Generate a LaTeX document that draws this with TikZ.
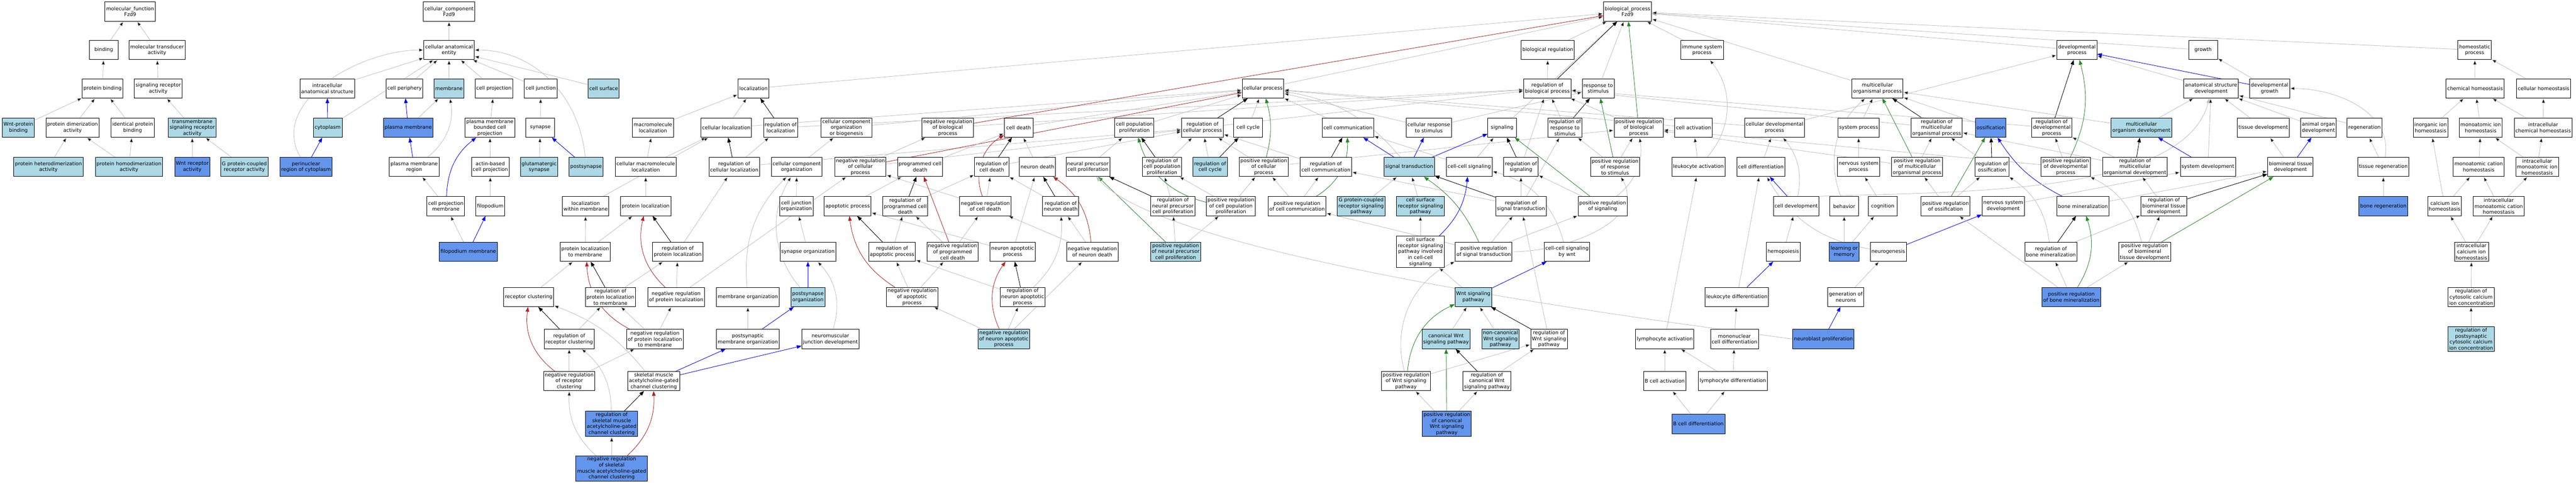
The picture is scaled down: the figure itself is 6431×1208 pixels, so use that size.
\documentclass[tikz,border=0pt]{standalone}
\usepackage{fontspec}
\setmainfont{DejaVu Sans}
\usetikzlibrary{arrows.meta,backgrounds}
\definecolor{lb}{HTML}{ADD8E6}
\definecolor{cb}{HTML}{6495ED}
\definecolor{edgegray}{HTML}{C0C0C0}
\definecolor{negred}{HTML}{B22222}
\definecolor{posgreen}{HTML}{228B22}

\begin{document}
\begin{tikzpicture}[x=1pt,y=1pt,
	term/.style={rectangle,draw=black,line width=1.2pt,fill=white,align=center,inner xsep=3pt,inner ysep=3pt,minimum width=72pt,minimum height=48pt,font=\fontsize{12.5}{15}\selectfont},
	lightterm/.style={term,fill=lb},
	darkterm/.style={term,fill=cb},
	isa/.style={draw=edgegray,line width=1.1pt,-{Triangle[length=12pt,width=9pt]}},
	partof/.style={draw=blue},
	regulates/.style={draw=black},
	negreg/.style={draw=negred},
	posreg/.style={draw=posgreen}]
		\useasboundingbox (0,0) rectangle (6431,1208);
		\draw
			(325,1179) node [term] (mf) {molecular\_function\\Fzd9}
			(259,1083) node [term] (bind) {binding}
			(392,1083) node [term] (mtrans) {molecular transducer\\activity}
			(256,987) node [term] (pbind) {protein binding}
			(395,987) node [term] (sra) {signaling receptor\\activity}
			(46,889) node [lightterm] (wntpb) {Wnt-protein\\binding}
			(181,889) node [term] (pdim) {protein dimerization\\activity}
			(331,889) node [term] (ipb) {identical protein\\binding}
			(480,889) node [lightterm] (tmsra) {transmembrane\\signaling receptor\\activity}
			(121,791) node [lightterm] (phet) {protein heterodimerization\\activity}
			(322,791) node [lightterm] (phom) {protein homodimerization\\activity}
			(480,791) node [darkterm] (wntra) {Wnt receptor\\activity}
			(610,791) node [lightterm] (gpcra) {G protein-coupled\\receptor activity}
			;
		\draw
			(1121,1179) node [term] (cc) {cellular\_component\\Fzd9}
			(1121,1083) node [term] (cae) {cellular anatomical\\entity}
			(817,987) node [term] (ias) {intracellular\\anatomical structure}
			(1010,987) node [term] (cper) {cell periphery}
			(1121,987) node [lightterm] (memb) {membrane}
			(1233,987) node [term] (cproj) {cell projection}
			(1350,987) node [term] (cjunc) {cell junction}
			(1507,987) node [lightterm] (csurf) {cell surface}
			(818,889) node [lightterm] (cyto) {cytoplasm}
			(1019,889) node [darkterm] (pm) {plasma membrane}
			(1223,889) node [term] (pmbcp) {plasma membrane\\bounded cell\\projection}
			(1349,889) node [term] (syn) {synapse}
			(764,791) node [darkterm] (perinuc) {perinuclear\\region of cytoplasm}
			(1034,791) node [term] (pmr) {plasma membrane\\region}
			(1224,791) node [term] (abcp) {actin-based\\cell projection}
			(1346,791) node [lightterm] (glusyn) {glutamatergic\\synapse}
			(1463,791) node [lightterm] (postsyn) {postsynapse}
			(1113,693) node [term] (cpm) {cell projection\\membrane}
			(1224,693) node [term] (filo) {filopodium}
			(1169,579) node [darkterm] (filom) {filopodium membrane}
			;
		\draw
			(1881,987) node [term] (loc) {localization}
			(1630,889) node [term] (mloc) {macromolecule\\localization}
			(1813,889) node [term] (cloc) {cellular localization}
			(1949,889) node [term] (rloc) {regulation of\\localization}
			(2113,889) node [term] (ccob) {cellular component\\organization\\or biogenesis}
			(2366,889) node [term] (nrbp) {negative regulation\\of biological\\process}
			(2543,889) node [term] (cdeath) {cell death}
			(1612,791) node [term] (cmloc) {cellular macromolecule\\localization}
			(1833,791) node [term] (rcloc) {regulation of\\cellular localization}
			(1989,791) node [term] (cco) {cellular component\\organization}
			(2148,791) node [term] (nrcp) {negative regulation\\of cellular\\process}
			(2297,791) node [term] (pcd) {programmed cell\\death}
			(2476,791) node [term] (rcd) {regulation of\\cell death}
			(2590,791) node [term] (ndeath) {neuron death}
			(2716,791) node [term] (npcp) {neural precursor\\cell proliferation}
			(1462,693) node [term] (locm) {localization\\within membrane}
			(1612,693) node [term] (ploc) {protein localization}
			(1988,693) node [term] (cjo) {cell junction\\organization}
			(2116,693) node [term] (apop) {apoptotic process}
			(2260,693) node [term] (rpcd) {regulation of\\programmed cell\\death}
			(2460,693) node [term] (nrcd) {negative regulation\\of cell death}
			(2648,693) node [term] (rnd) {regulation of\\neuron death}
			(1461,579) node [term] (plocm) {protein localization\\to membrane}
			(1692,579) node [term] (rploc) {regulation of\\protein localization}
			(2017,579) node [term] (synorg) {synapse organization}
			(2227,579) node [term] (rap) {regulation of\\apoptotic process}
			(2378,579) node [term] (nrpcd) {negative regulation\\of programmed\\cell death}
			(2528,579) node [term] (nap) {neuron apoptotic\\process}
			(2727,579) node [term] (nrnd) {negative regulation\\of neuron death}
			(1320,466) node [term] (recl) {receptor clustering}
			(1524,466) node [term] (rplocm) {regulation of\\protein localization\\to membrane}
			(1688,466) node [term] (nrploc) {negative regulation\\of protein localization}
			(1867,466) node [term] (morg) {membrane organization}
			(2017,466) node [lightterm] (psorg) {postsynapse\\organization}
			(2277,466) node [term] (nrap) {negative regulation\\of apoptotic\\process}
			(2553,466) node [term] (rnap) {regulation of\\neuron apoptotic\\process}
			(1421,361) node [term] (rrecl) {regulation of\\receptor clustering}
			(1635,361) node [term] (nrplocm) {negative regulation\\of protein localization\\to membrane}
			(1867,361) node [term] (psmorg) {postsynaptic\\membrane organization}
			(2073,361) node [term] (nmjd) {neuromuscular\\junction development}
			(2506,361) node [lightterm] (nrnap) {negative regulation\\of neuron apoptotic\\process}
			(1421,256) node [term] (nrrecl) {negative regulation\\of receptor\\clustering}
			(1632,256) node [term] (smacc) {skeletal muscle\\acetylcholine-gated\\channel clustering}
			(1527,149) node [darkterm] (rsmacc) {regulation of\\skeletal muscle\\acetylcholine-gated\\channel clustering}
			(1527,38) node [darkterm] (nrsmacc) {negative regulation\\of skeletal\\muscle acetylcholine-gated\\channel clustering}
			;
		\draw
			(3153,987) node [term] (cproc) {cellular process}
			(2832,889) node [term] (cpp) {cell population\\proliferation}
			(3002,889) node [term] (rcp) {regulation of\\cellular process}
			(3116,889) node [term] (ccyc) {cell cycle}
			(3365,889) node [term] (ccomm) {cell communication}
			(3567,889) node [term] (crs) {cellular response\\to stimulus}
			(3750,889) node [term] (sig) {signaling}
			(2901,791) node [term] (rcpp) {regulation of\\cell population\\proliferation}
			(3021,791) node [lightterm] (rccyc) {regulation of\\cell cycle}
			(3155,791) node [term] (prcp) {positive regulation\\of cellular\\process}
			(3310,791) node [term] (rcc) {regulation of\\cell communication}
			(3518,791) node [lightterm] (st) {signal transduction}
			(3668,791) node [term] (ccs) {cell-cell signaling}
			(2928,693) node [term] (rnpcp) {regulation of\\neural precursor\\cell proliferation}
			(3073,693) node [term] (prcpp) {positive regulation\\of cell population\\proliferation}
			(3238,693) node [term] (prcc) {positive regulation\\of cell communication}
			(3398,693) node [lightterm] (gpcrsp) {G protein-coupled\\receptor signaling\\pathway}
			(3546,693) node [lightterm] (csrsp) {cell surface\\receptor signaling\\pathway}
			(3797,693) node [term] (rst) {regulation of\\signal transduction}
			(2935,579) node [lightterm] (prnpcp) {positive regulation\\of neural precursor\\cell proliferation}
			(3546,579) node [term] (csrspccs) {cell surface\\receptor signaling\\pathway involved\\in cell-cell\\signaling}
			(3704,579) node [term] (prst) {positive regulation\\of signal transduction}
			(3912,579) node [term] (ccsw) {cell-cell signaling\\by wnt}
			(3678,466) node [lightterm] (wnt) {Wnt signaling\\pathway}
			(3610,361) node [lightterm] (cwnt) {canonical Wnt\\signaling pathway}
			(3746,361) node [lightterm] (ncwnt) {non-canonical\\Wnt signaling\\pathway}
			(3867,361) node [term] (rwnt) {regulation of\\Wnt signaling\\pathway}
			(3510,256) node [term] (prwnt) {positive regulation\\of Wnt signaling\\pathway}
			(3712,256) node [term] (rcwnt) {regulation of\\canonical Wnt\\signaling pathway}
			(3612,149) node [darkterm] (prcwnt) {positive regulation\\of canonical\\Wnt signaling\\pathway}
			;
		\draw
			(4063,1179) node [term] (bp) {biological\_process\\Fzd9}
			(3864,1083) node [term] (breg) {biological regulation}
			(4249,1083) node [term] (isp) {immune system\\process}
			(3863,987) node [term] (rbp) {regulation of\\biological process}
			(3990,987) node [term] (rts) {response to\\stimulus}
			(3907,889) node [term] (rrts) {regulation of\\response to\\stimulus}
			(4091,889) node [term] (prbp) {positive regulation\\of biological\\process}
			(4228,889) node [term] (cact) {cell activation}
			(3797,791) node [term] (rsig) {regulation of\\signaling}
			(4032,791) node [term] (prrts) {positive regulation\\of response\\to stimulus}
			(4240,791) node [term] (lact) {leukocyte activation}
			(4001,693) node [term] (prsig) {positive regulation\\of signaling}
			(4336,466) node [term] (ldiff) {leukocyte differentiation}
			(4156,361) node [term] (lyact) {lymphocyte activation}
			(4330,361) node [term] (mcd) {mononuclear\\cell differentiation}
			(4156,256) node [term] (bcact) {B cell activation}
			(4326,256) node [term] (lydiff) {lymphocyte differentiation}
			(4240,149) node [darkterm] (bcdiff) {B cell differentiation}
			;
		\draw
			(4687,987) node [term] (mop) {multicellular\\organismal process}
			(4430,889) node [term] (cdp) {cellular developmental\\process}
			(4640,889) node [term] (sysp) {system process}
			(4835,889) node [term] (rmop) {regulation of\\multicellular\\organismal process}
			(4396,791) node [term] (cdiff) {cell differentiation}
			(4640,791) node [term] (nsp) {nervous system\\process}
			(4786,791) node [term] (prmop) {positive regulation\\of multicellular\\organismal process}
			(4484,693) node [term] (cdev) {cell development}
			(4604,693) node [term] (behav) {behavior}
			(4700,693) node [term] (cogn) {cognition}
			(4857,693) node [term] (pross) {positive regulation\\of ossification}
			(4452,579) node [term] (hemo) {hemopoiesis}
			(4604,579) node [darkterm] (lom) {learning or\\memory}
			(4714,579) node [term] (neurog) {neurogenesis}
			(4608,466) node [term] (genn) {generation of\\neurons}
			(4552,361) node [darkterm] (nbp) {neuroblast proliferation}
			(5185,1083) node [term] (devp) {developmental\\process}
			(4970,889) node [darkterm] (oss) {ossification}
			(5122,889) node [term] (rdevp) {regulation of\\developmental\\process}
			(5346,889) node [lightterm] (mod) {multicellular\\organism development}
			(4973,791) node [term] (ross) {regulation of\\ossification}
			(5157,791) node [term] (prdevp) {positive regulation\\of developmental\\process}
			(5330,791) node [term] (rmod) {regulation of\\multicellular\\organismal development}
			(5001,693) node [term] (nsd) {nervous system\\development}
			(5200,693) node [term] (bmin) {bone mineralization}
			(5402,693) node [term] (rbtd) {regulation of\\biomineral tissue\\development}
			(5120,579) node [term] (rbmin) {regulation of\\bone mineralization}
			(5354,579) node [term] (prbtd) {positive regulation\\of biomineral\\tissue development}
			(5171,466) node [darkterm] (prbmin) {positive regulation\\of bone mineralization}
			(5500,1083) node [term] (growth) {growth}
			(5520,987) node [term] (asd) {anatomical structure\\development}
			(5666,987) node [term] (devg) {developmental\\growth}
			(5650,889) node [term] (tdev) {tissue development}
			(5788,889) node [term] (aod) {animal organ\\development}
			(5903,889) node [term] (regen) {regeneration}
			(5512,791) node [term] (sysd) {system development}
			(5718,791) node [term] (btd) {biomineral tissue\\development}
			(5950,791) node [term] (treg) {tissue regeneration}
			(5950,693) node [darkterm] (boneregen) {bone regeneration}
			;
		\draw
			(6178,1083) node [term] (homeo) {homeostatic\\process}
			(6179,987) node [term] (chom) {chemical homeostasis}
			(6350,987) node [term] (cellhom) {cellular homeostasis}
			(6068,889) node [term] (iih) {inorganic ion\\homeostasis}
			(6193,889) node [term] (mih) {monoatomic ion\\homeostasis}
			(6349,889) node [term] (ichom) {intracellular\\chemical homeostasis}
			(6188,791) node [term] (mch) {monoatomic cation\\homeostasis}
			(6334,791) node [term] (imih) {intracellular\\monoatomic ion\\homeostasis}
			(6103,693) node [term] (cah) {calcium ion\\homeostasis}
			(6238,693) node [term] (imch) {intracellular\\monoatomic cation\\homeostasis}
			(6170,579) node [term] (icah) {intracellular\\calcium ion\\homeostasis}
			(6169,466) node [term] (rcca) {regulation of\\cytosolic calcium\\ion concentration}
			(6169,361) node [lightterm] (rpcca) {regulation of\\postsynaptic\\cytosolic calcium\\ion concentration}
			;
		\begin{scope}[on background layer]
		\draw[isa]
			(bind) edge (mf)
			(mtrans) edge (mf)
			(pbind) edge (bind)
			(sra) edge (mtrans)
			(wntpb) edge (pbind)
			(pdim) edge (pbind)
			(ipb) edge (pbind)
			(tmsra) edge (sra)
			(phet) edge (pdim)
			(phom) edge (pdim) edge (ipb)
			(wntra) edge (tmsra)
			(gpcra) edge (tmsra)
			;
		\draw[isa]
			(cae) edge (cc)
			(ias) edge (cae)
			(cper) edge (cae)
			(memb) edge (cae)
			(cproj) edge (cae)
			(cjunc) edge (cae)
			(csurf) edge (cae)
			(cyto) edge [partof] (ias) edge (cae)
			(pm) edge [partof] (cper) edge (memb)
			(pmbcp) edge (cproj)
			(syn) edge (cjunc)
			(perinuc) edge [partof] (cyto) edge [out=120,in=180] (cae)
			(pmr) edge [partof] (pm) edge [bend right=30] (memb)
			(abcp) edge (pmbcp)
			(glusyn) edge (syn)
			(postsyn) edge [partof] (syn) edge [out=95,in=0] (cae)
			(cpm) edge [partof,bend left=25] (pmbcp) edge (pmr)
			(filo) edge (abcp)
			(filom) edge (cpm) edge [partof] (filo)
			;
		\draw[isa]
			(loc) edge (bp)
			(mloc) edge (loc)
			(cloc) edge (loc) edge (cproc)
			(rloc) edge [regulates] (loc) edge (rbp)
			(ccob) edge (cproc)
			(cmloc) edge (mloc) edge (cloc)
			(rcloc) edge [regulates] (cloc) edge (rloc) edge (rcp)
			(cco) edge (ccob)
			(ploc) edge (cmloc)
			(locm) edge (cloc)
			(cjo) edge (cco)
			(rploc) edge [regulates] (ploc) edge (rcloc)
			(plocm) edge (locm) edge (ploc)
			(synorg) edge (cjo)
			(recl) edge (plocm)
			(rplocm) edge [regulates] (plocm) edge (rploc)
			(nrploc) edge [negreg,bend left=30] (ploc) edge (rploc) edge (nrcp)
			(morg) edge [bend left=25] (cco)
			(psorg) edge [partof] (synorg) edge [bend left=35] (cco)
			(rrecl) edge [regulates] (recl) edge (rplocm)
			(nrplocm) edge [negreg,bend left=30] (plocm) edge (rplocm) edge (nrploc)
			(psmorg) edge (morg) edge [partof] (psorg)
			(nmjd) edge [bend right=30] (synorg)
			(nrrecl) edge [negreg,bend left=30] (recl) edge (rrecl) edge (nrplocm)
			(smacc) edge [bend right=15] (recl) edge [partof] (psmorg) edge [partof] (nmjd)
			(rsmacc) edge [regulates] (smacc) edge [bend right=25] (rrecl)
			(nrsmacc) edge (rsmacc) edge [bend left=25] (nrrecl) edge [negreg,bend right=25] (smacc)
			;
		\draw[isa]
			(nrbp) edge [negreg] (bp) edge (rbp)
			(nrcp) edge [negreg] (cproc) edge (nrbp) edge (rcp)
			(cdeath) edge (cproc)
			(pcd) edge (cdeath)
			(rcd) edge [regulates] (cdeath) edge (rcp)
			(ndeath) edge (cdeath)
			(apop) edge (pcd)
			(rpcd) edge [regulates] (pcd) edge (rcd)
			(nrcd) edge [negreg,bend left=40] (cdeath) edge (rcd) edge (nrcp)
			(rnd) edge [regulates] (ndeath) edge (rcd)
			(rap) edge [regulates] (apop) edge (rpcd)
			(nrpcd) edge [negreg] (pcd) edge (rpcd) edge (nrcd)
			(nap) edge (ndeath) edge (apop)
			(nrnd) edge [negreg,bend right=25] (ndeath) edge (rnd) edge (nrcd)
			(nrap) edge [negreg,bend left=25] (apop) edge (rap) edge (nrpcd)
			(rnap) edge [regulates] (nap) edge (rap) edge [bend right=25] (rnd)
			(nrnap) edge [negreg,bend left=30] (nap) edge (rnap) edge (nrap) edge (nrnd)
			;
		\draw[isa]
			(cpp) edge (cproc)
			(npcp) edge (cpp)
			(rcp) edge [regulates] (cproc) edge (rbp)
			(ccyc) edge (cproc)
			(rcpp) edge [regulates] (cpp) edge (rcp)
			(rccyc) edge [regulates] (ccyc) edge (rcp)
			(prcp) edge [posreg,bend right=15] (cproc) edge (rcp) edge (prbp)
			(rnpcp) edge [regulates] (npcp) edge (rcpp)
			(prcpp) edge [posreg,bend left=30] (cpp) edge (rcpp) edge (prcp)
			(prnpcp) edge [posreg] (npcp) edge (rnpcp) edge (prcpp)
			;
		\draw[isa]
			(cproc) edge (bp)
			(ccomm) edge (cproc)
			(crs) edge (cproc) edge (rts)
			(sig) edge (bp)
			(rcc) edge [regulates] (ccomm) edge (rcp)
			(st) edge [partof] (ccomm) edge [partof] (crs) edge [partof] (sig) edge [bend right=20] (cproc)
			(ccs) edge (sig) edge (ccomm)
			(prcc) edge [posreg,bend right=30] (ccomm) edge (rcc) edge (prcp)
			(gpcrsp) edge (st)
			(csrsp) edge (st)
			(rst) edge [regulates] (st) edge (rcc) edge (rsig) edge (rrts)
			(csrspccs) edge (csrsp) edge [partof,bend right=20] (ccs)
			(prst) edge [posreg,bend right=15] (st) edge (prcc) edge (rst) edge (prsig) edge [out=0,in=-60] (prrts)
			(ccsw) edge [bend right=30] (ccs)
			(wnt) edge (csrspccs) edge [partof] (ccsw)
			(cwnt) edge (wnt)
			(ncwnt) edge (wnt)
			(rwnt) edge [regulates] (wnt) edge (rst)
			(prwnt) edge [posreg,bend left=30] (wnt) edge [bend left=40] (prst) edge (rwnt)
			(rcwnt) edge [regulates] (cwnt) edge (rwnt)
			(prcwnt) edge [posreg] (cwnt) edge (prwnt) edge (rcwnt)
			;
		\draw[isa]
			(breg) edge (bp)
			(isp) edge (bp)
			(rbp) edge (breg) edge [regulates] (bp)
			(rts) edge (bp)
			(rrts) edge [regulates] (rts) edge (rbp)
			(prbp) edge [posreg] (bp) edge (rbp)
			(cact) edge (cproc)
			(rsig) edge [regulates] (sig) edge (rbp)
			(prrts) edge [posreg] (rts) edge (rrts) edge (prbp)
			(lact) edge (cact) edge [bend right=40] (isp)
			(prsig) edge [posreg] (sig) edge (rsig) edge [bend right=30] (prbp)
			(lyact) edge (lact)
			(mcd) edge (ldiff)
			(ldiff) edge [partof] (hemo) edge (cdiff)
			(bcact) edge (lyact)
			(lydiff) edge (lyact) edge (mcd)
			(bcdiff) edge (bcact) edge (lydiff)
			;
		\draw[isa]
			(mop) edge (bp)
			(devp) edge (bp)
			(growth) edge (bp)
			(homeo) edge (bp)
			(cdp) edge (devp) edge (cproc)
			(sysp) edge (mop)
			(rmop) edge [regulates] (mop) edge (rbp)
			(cdiff) edge (cdp)
			(nsp) edge (sysp)
			(prmop) edge [posreg] (mop) edge (rmop) edge (prbp)
			(cdev) edge [partof] (cdiff) edge [bend right=25] (cdp)
			(behav) edge [bend left=35] (mop)
			(cogn) edge (nsp)
			(hemo) edge (cdev)
			(lom) edge (behav) edge (cogn)
			(neurog) edge [partof] (nsd) edge [bend left=25] (cdiff)
			(genn) edge (neurog)
			(nbp) edge [partof] (genn)
			(oss) edge (mop)
			(rdevp) edge [regulates] (devp) edge (rbp)
			(mod) edge (mop) edge (asd)
			(ross) edge [regulates] (oss) edge (rmop)
			(prdevp) edge [posreg,bend right=20] (devp) edge (rdevp) edge (prbp)
			(rmod) edge [regulates] (mod) edge (rdevp) edge (rmop)
			(pross) edge [posreg] (oss) edge (ross) edge (prmop)
			(nsd) edge (sysd)
			(bmin) edge [partof,bend left=15] (oss) edge (btd)
			(rbtd) edge [regulates] (btd) edge (rmod)
			(rbmin) edge [regulates] (bmin) edge [bend right=25] (ross) edge (rbtd)
			(prbtd) edge [posreg] (btd) edge (rbtd) edge [bend right=25] (prdevp)
			(prbmin) edge [posreg,bend right=25] (bmin) edge (rbmin) edge (prbtd) edge (pross)
			;
		\draw[isa] (cdev.north east) .. controls (4900,730) and (5450,720) .. (asd.-100);
		\draw[isa] (nbp.west) .. controls (4181,402) and (2925,558) .. (npcp.-50);
		\draw[isa]
			(asd) edge (devp)
			(devg) edge (growth) edge [partof] (devp)
			(tdev) edge (asd)
			(aod) edge (asd)
			(regen) edge (asd)
			(sysd) edge [partof] (mod) edge (asd)
			(btd) edge (tdev) edge [partof] (aod)
			(treg) edge (regen) edge [out=80,in=0] (devg)
			(boneregen) edge (treg)
			(chom) edge (homeo)
			(cellhom) edge (homeo)
			(iih) edge (chom)
			(mih) edge (chom)
			(ichom) edge (chom) edge (cellhom)
			(mch) edge (mih)
			(imih) edge (mih) edge (ichom)
			(cah) edge (iih) edge (mch)
			(imch) edge (mch) edge (imih)
			(icah) edge (cah) edge (imch)
			(rcca) edge (icah)
			(rpcca) edge (rcca)
			;
		\end{scope}
	\end{tikzpicture}
\end{document}
